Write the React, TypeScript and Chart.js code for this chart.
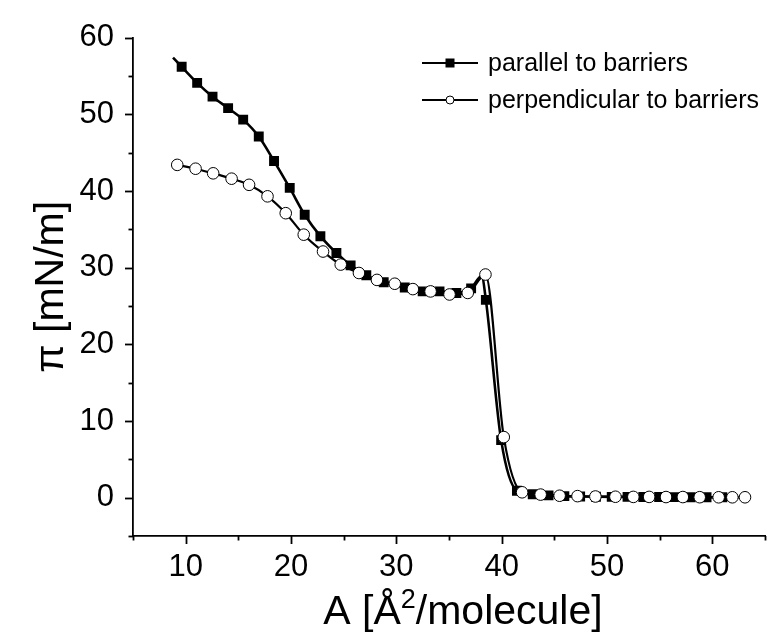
import { useEffect, useRef } from 'react';
import { Chart, registerables } from 'chart.js';

Chart.register(...registerables);

const FONT = '"Liberation Sans", Arial, Helvetica, sans-serif';

// Surface pressure isotherms: molecular area (Å²) vs. surface pressure (mN/m)
const parallelArea = [
  9.62, 11.09, 12.55, 14.03, 15.46, 16.94, 18.39, 19.88, 21.3, 22.79, 24.31, 25.66,
  27.15, 28.8, 30.8, 32.5, 34.1, 35.7, 37.1, 38.5, 39.95, 41.45, 42.95, 44.45, 45.95,
  47.45, 48.95, 50.45, 51.95, 53.45, 54.95, 56.45, 57.95, 59.45, 60.95,
];
const parallelPressure = [
  56.2, 54.1, 52.3, 50.8, 49.3, 47.1, 43.9, 40.4, 36.9, 34.1, 31.9, 30.3,
  29.0, 28.1, 27.4, 26.9, 26.9, 26.7, 27.3, 25.8, 7.5, 0.9, 0.45, 0.3, 0.2,
  0.15, 0.12, 0.1, 0.1, 0.08, 0.08, 0.07, 0.06, 0.05, 0.05,
];
// recorded points of the parallel trace that carry no symbol
const parallelTraceArea = [8.8, 38.1];
const parallelTracePressure = [57.4, 28.9];

const perpendicularArea = [
  9.2, 10.94, 12.61, 14.36, 16.02, 17.77, 19.5, 21.21, 23.04, 24.72, 26.45, 28.16,
  29.85, 31.57, 33.25, 35.05, 36.78, 38.46, 40.2, 41.94, 43.7, 45.5, 47.2, 48.9,
  50.8, 52.5, 54.0, 55.6, 57.2, 58.8, 60.6, 61.9, 63.1,
];
const perpendicularPressure = [
  43.4, 42.9, 42.3, 41.6, 40.8, 39.3, 37.1, 34.3, 32.1, 30.4, 29.3, 28.4,
  27.9, 27.2, 26.9, 26.5, 26.7, 29.1, 7.9, 0.7, 0.4, 0.25, 0.2, 0.15,
  0.12, 0.1, 0.1, 0.08, 0.08, 0.06, 0.05, 0.05, 0.05,
];

const seriesNames = ['parallel to barriers', 'perpendicular to barriers'];
const xLabelValues = [10, 20, 30, 40, 50, 60];
const yLabelValues = [0, 10, 20, 30, 40, 50, 60];

const toPoints = (xs: number[], ys: number[]) => xs.map((x, i) => ({ x, y: ys[i] }));

const overlay = {
  id: 'overlay',
  afterDraw(chart: any) {
    const ctx: CanvasRenderingContext2D = chart.ctx;
    const xs = chart.scales.x;
    const ys = chart.scales.y;
    const { left, bottom, top, right } = chart.chartArea;
    ctx.save();
    ctx.strokeStyle = '#000';
    ctx.fillStyle = '#000';
    ctx.lineWidth = 1.8;

    // tick marks (major every 10, minor every 5), pointing outward
    for (let v = 5; v <= 65; v += 5) {
      const px = Math.round(xs.getPixelForValue(v)) + 0.5;
      const len = v % 10 === 0 ? 8 : 4.5;
      ctx.beginPath();
      ctx.moveTo(px, bottom);
      ctx.lineTo(px, bottom + len);
      ctx.stroke();
    }
    for (let v = -5; v <= 60; v += 5) {
      const py = Math.round(ys.getPixelForValue(v)) + 0.5;
      const len = v % 10 === 0 ? 8 : 4.5;
      ctx.beginPath();
      ctx.moveTo(left, py);
      ctx.lineTo(left - len, py);
      ctx.stroke();
    }

    // legend
    const lx0 = 422;
    const lx1 = 478;
    const rows = [63, 100];
    ctx.font = `25px ${FONT}`;
    ctx.textBaseline = 'middle';
    ctx.textAlign = 'left';
    rows.forEach((ry, i) => {
      ctx.lineWidth = 2;
      ctx.strokeStyle = '#000';
      ctx.beginPath();
      ctx.moveTo(lx0, ry);
      ctx.lineTo(lx1, ry);
      ctx.stroke();
      const cx = (lx0 + lx1) / 2;
      if (i === 0) {
        ctx.fillStyle = '#000';
        ctx.fillRect(cx - 4.5, ry - 4.5, 9, 9);
      } else {
        ctx.fillStyle = '#fff';
        ctx.lineWidth = 1;
        ctx.beginPath();
        ctx.arc(cx, ry, 4, 0, Math.PI * 2);
        ctx.fill();
        ctx.stroke();
      }
      ctx.fillStyle = '#000';
      ctx.fillText(seriesNames[i], 488, ry + 1);
    });

    // x-axis title with superscript
    const big = `41px ${FONT}`;
    const small = `27px ${FONT}`;
    const p1 = 'A [Å';
    const p2 = '2';
    const p3 = '/molecule]';
    ctx.font = big;
    const w1 = ctx.measureText(p1).width;
    const w3 = ctx.measureText(p3).width;
    ctx.font = small;
    const w2 = ctx.measureText(p2).width;
    const total = w1 + w2 + w3;
    const cxTitle = (left + right) / 2 + 14;
    let tx = cxTitle - total / 2;
    const base = 624;
    ctx.textBaseline = 'alphabetic';
    ctx.fillStyle = '#000';
    ctx.font = big;
    ctx.fillText(p1, tx, base);
    tx += w1;
    ctx.font = small;
    ctx.fillText(p2, tx, base - 16);
    tx += w2;
    ctx.font = big;
    ctx.fillText(p3, tx, base);

    // y-axis title
    ctx.save();
    ctx.translate(52, (top + bottom) / 2);
    ctx.rotate(-Math.PI / 2);
    ctx.font = big;
    ctx.textAlign = 'center';
    ctx.textBaseline = 'middle';
    ctx.fillText('π [mN/m]', 0, 0);
    ctx.restore();

    ctx.restore();
  },
};

export default function App() {
  const canvasRef = useRef<HTMLCanvasElement | null>(null);

  useEffect(() => {
    const canvas = canvasRef.current;
    if (!canvas) return;

    const parallelLine = toPoints(
      [...parallelArea, ...parallelTraceArea],
      [...parallelPressure, ...parallelTracePressure]
    ).sort((a, b) => a.x - b.x);

    const chart = new Chart(canvas, {
      type: 'line',
      data: {
        datasets: [
          {
            label: seriesNames[0],
            data: parallelLine,
            borderColor: '#000',
            borderWidth: 2.6,
            pointRadius: 0,
            cubicInterpolationMode: 'monotone',
            order: 4,
          },
          {
            label: seriesNames[0],
            data: toPoints(parallelArea, parallelPressure),
            showLine: false,
            pointStyle: 'rect',
            pointRadius: 7,
            pointBackgroundColor: '#000',
            pointBorderColor: '#000',
            pointBorderWidth: 0,
            order: 3,
          },
          {
            label: seriesNames[1],
            data: toPoints(perpendicularArea, perpendicularPressure),
            borderColor: '#000',
            borderWidth: 2.2,
            pointRadius: 0,
            cubicInterpolationMode: 'monotone',
            order: 2,
          },
          {
            label: seriesNames[1],
            data: toPoints(perpendicularArea, perpendicularPressure),
            showLine: false,
            pointStyle: 'circle',
            pointRadius: 5.8,
            pointBackgroundColor: '#fff',
            pointBorderColor: '#000',
            pointBorderWidth: 1,
            order: 1,
          },
        ],
      },
      options: {
        animation: false,
        responsive: false,
        events: [],
        layout: { padding: { left: 0, right: 12, top: 27, bottom: 0 } },
        plugins: {
          legend: { display: false },
          tooltip: { enabled: false },
        },
        scales: {
          x: {
            type: 'linear',
            min: 5,
            max: 65,
            grid: { display: false, drawTicks: false },
            border: { display: true, color: '#000', width: 1.8 },
            ticks: {
              stepSize: 5,
              padding: 13,
              color: '#000',
              font: { family: FONT, size: 31 },
              maxRotation: 0,
              autoSkip: false,
              callback: (v: any) => (xLabelValues.includes(Number(v)) ? String(v) : ''),
            },
            afterFit: (scale: any) => {
              scale.height = 100;
            },
          },
          y: {
            type: 'linear',
            min: -5,
            max: 60,
            grid: { display: false, drawTicks: false },
            border: { display: true, color: '#000', width: 1.8 },
            ticks: {
              stepSize: 5,
              padding: 19,
              color: '#000',
              font: { family: FONT, size: 31 },
              autoSkip: false,
              callback: (v: any) => (yLabelValues.includes(Number(v)) ? String(v) : ''),
            },
            afterFit: (scale: any) => {
              scale.width = 133;
            },
          },
        },
      },
      plugins: [overlay],
    });

    return () => chart.destroy();
  }, []);

  return (
    <div style={{ position: 'absolute', left: 0, top: 0, width: 778, height: 636, background: '#fff' }}>
      <canvas ref={canvasRef} width={778} height={636} />
    </div>
  );
}
